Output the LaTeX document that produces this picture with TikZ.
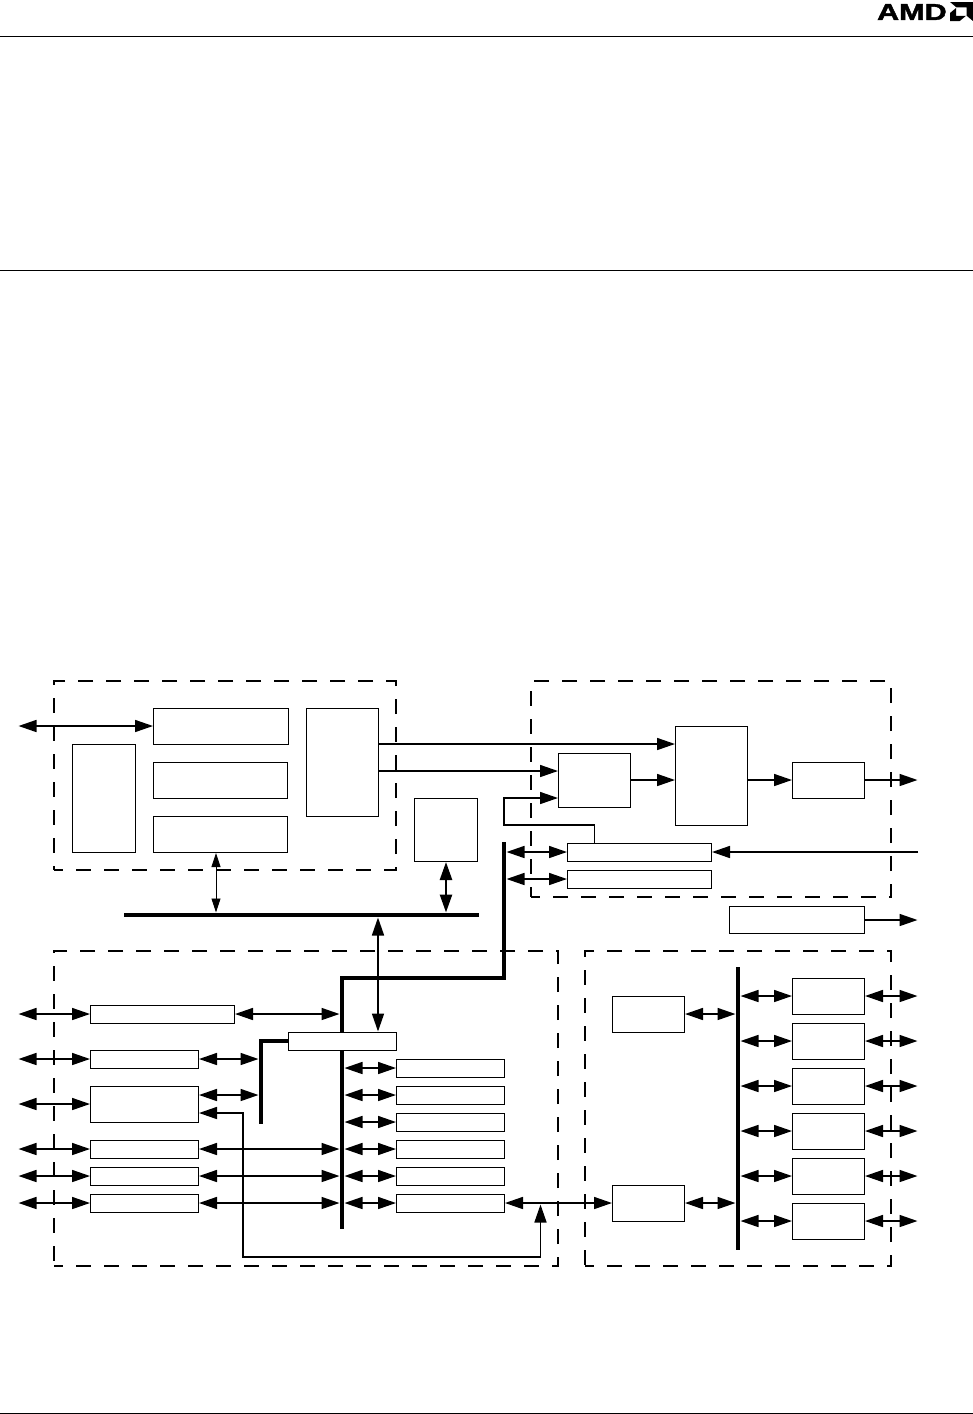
\documentclass[tikz,border=0pt]{standalone}
\usepackage{fontspec}
\setmainfont{Liberation Sans}[BoldFeatures={FakeBold=1.6}]
\usetikzlibrary{arrows.meta,calc,positioning}

\begin{document}
\begin{tikzpicture}[
  x=1pt, y=-1pt,
  block/.style={draw=black, fill=white, line width=0.9pt, inner sep=0pt, outer sep=0pt},
  narrowbar/.style={block, minimum width=108pt, minimum height=18pt},
  longbar/.style={block, minimum width=144pt, minimum height=18pt},
  smallbox/.style={block, minimum width=72pt, minimum height=36pt},
  group/.style={draw=black, line width=1.8pt, dash pattern=on 15pt off 13pt, dash phase=6pt, inner sep=0pt, outer sep=0pt},
  busbar/.style={fill=black, inner sep=0pt, outer sep=0pt},
  bigtip/.tip={Triangle[length=18pt, width=12pt]},
  thintip/.tip={Triangle[length=14pt, width=9pt]},
  oneway/.style={-bigtip, line width=1.6pt, shorten >=0.5pt},
  twoway/.style={bigtip-bigtip, line width=1.6pt, shorten >=0.5pt, shorten <=0.5pt},
  thinway/.style={thintip-thintip, line width=0.9pt, shorten >=0.5pt, shorten <=0.5pt},
  heavyway/.style={bigtip-bigtip, line width=2.5pt, shorten >=0.5pt, shorten <=0.5pt},
  heavywire/.style={line width=4pt, line join=miter},
  rule/.style={line width=0.9pt},
]
\useasboundingbox (0,0) rectangle (973,1414);

% page furniture
\draw[rule] (0,36.5) -- (973,36.5);
\draw[rule] (0,270.5) -- (973,270.5);
\draw[rule] (0,1413) -- (973,1413);
\node[inner sep=0pt, font=\bfseries, xscale=1.33, anchor=east] (logoText) at (947,12) {\fontsize{23}{23}\selectfont AMD};
\fill (950,2) -- (973,2) -- (973,21) -- (966.6,15.7) -- (966.6,7.3) -- (956.4,7.3) -- cycle;
\fill (950,21) -- (959.7,21) -- (965.9,15.9) -- (956.2,15.9) -- (956.2,7.9) -- (950,13) -- cycle;

% free ends left and right
\coordinate (edgeL) at (18,0);
\coordinate (edgeR) at (918,0);

% dashed groups
\node[group, minimum width=342pt, minimum height=189pt] (groupCore) at (225,775.5) {};
\node[group, minimum width=360pt, minimum height=216pt] (groupDisplay) at (711,789) {};
\node[group, minimum width=504pt, minimum height=315pt] (groupIO) at (306,1108.5) {};
\node[group, minimum width=306pt, minimum height=315pt] (groupBus) at (738,1108.5) {};

% top left group
\node[block, minimum width=135pt, minimum height=36pt] (cacheA) at (221,726) {};
\node[block, minimum width=134pt, minimum height=36pt] (cacheB) at (220.5,780) {};
\node[block, minimum width=134pt, minimum height=36pt] (cacheC) at (220.5,834) {};
\node[block, minimum width=63pt, minimum height=108pt] (coreL) at (104,798) {};
\node[block, minimum width=72pt, minimum height=108pt] (coreR) at (342.5,762) {};
\node[block, minimum width=63pt, minimum height=63pt] (pciBox) at (446,830) {};

% top right group
\node[smallbox, minimum height=54pt] (mixBox) at (594.5,780) {};
\node[block, minimum width=72pt, minimum height=99pt] (tallBox) at (711.5,776) {};
\node[smallbox] (dacBox) at (828.5,780) {};
\node[longbar] (barA) at (639.5,852) {};
\node[longbar] (barB) at (639.5,879) {};
\node[block, minimum width=135pt, minimum height=27pt] (barOut) at (797,920) {};

% lower left group
\node[longbar] (rowTop) at (162.5,1014) {};
\foreach \n/\y in {a/1059,d/1149,e/1176,f/1203} {
  \node[narrowbar] (row\n) at (144.5,\y) {};
}
\node[block, minimum width=108pt, minimum height=36pt] (rowb) at (144.5,1104) {};
\foreach \n/\y in {1/1068,2/1095,3/1122,4/1149,5/1176,6/1203} {
  \node[narrowbar] (port\n) at (450.5,\y) {};
}

% lower right group
\node[smallbox] (hostA) at (648.5,1014) {};
\node[smallbox] (hostB) at (648.5,1203) {};
\foreach \n/\y in {1/996,2/1041,3/1086,4/1131,5/1176,6/1221} {
  \node[smallbox] (dev\n) at (828.5,\y) {};
}

% buses
\node[busbar, minimum width=355pt, minimum height=4pt] (busTop) at (301.5,915) {};
\node[busbar, minimum width=4pt, minimum height=283pt] (busDev) at (738,1108.5) {};

\coordinate (busRise) at (504,842);
\coordinate (busMain) at (342,1229);
\coordinate (busSub) at (261,1124);
\draw[heavywire] (busRise) -- (504,978) -- (342,978) -- (busMain);
\node[narrowbar] (bridge) at (342.5,1041) {};
\draw[heavywire] (bridge.west) -| (busSub);

% connectors to the top bus
\coordinate (cacheTap) at (216,852.5);
\coordinate (bridgeTap) at (378,1032);
\draw[thinway] (cacheTap) -- (cacheTap |- busTop.north);
\draw[heavyway] (pciBox.south) -- (pciBox.south |- busTop.north);
\draw[twoway] (bridgeTap |- busTop.south) -- (bridgeTap);

% top right group connectors
\coordinate (outA) at (378,744);
\coordinate (outB) at (378,771);
\coordinate (tap) at (594.5,825);
\coordinate (loopIn) at (558.5,798);
\draw[oneway] (outA) -- (outA -| tallBox.west);
\draw[oneway] (outB) -- (outB -| mixBox.west);
\draw[oneway] (mixBox.east) -- (mixBox.east -| tallBox.west);
\draw[oneway] (tallBox.east |- dacBox.west) -- (dacBox.west);
\draw[oneway] (dacBox.east) -- (dacBox.east -| edgeR);
\draw[oneway] (barOut.east) -- (barOut.east -| edgeR);
\draw[oneway] (barA.east -| edgeR) -- (barA.east);
\draw[oneway] (tap |- barA.north) -- (tap) -| (busRise |- loopIn) -- (loopIn);
\draw[twoway] ($(barA.west -| busRise)+(2,0)$) -- (barA.west);
\draw[twoway] ($(barB.west -| busRise)+(2,0)$) -- (barB.west);

% lower left group connectors
\draw[twoway] (cacheA.west -| edgeL) -- (cacheA.west);
\foreach \n in {Top,a,b,d,e,f} {
  \draw[twoway] (row\n.west -| edgeL) -- (row\n.west);
}
\draw[twoway] (rowTop.east) -- ($(rowTop.east -| busMain)+(-2,0)$);
\draw[twoway] (rowa.east) -- ($(rowa.east -| busSub)+(-2,0)$);
\coordinate (subIn) at (198.5,1095);
\draw[twoway] (subIn) -- ($(subIn -| busSub)+(-2,0)$);
\foreach \n in {d,e,f} {
  \draw[twoway] (row\n.east) -- ($(row\n.east -| busMain)+(-2,0)$);
}
\foreach \n in {1,...,6} {
  \draw[twoway] ($(port\n.west -| busMain)+(2,0)$) -- (port\n.west);
}
\draw[twoway] (port6.east) -- (port6.east -| hostB.west);
\coordinate (loopA) at (198.5,1113);
\coordinate (loopB) at (243,1257);
\coordinate (loopC) at (540.5,1204);
\draw[twoway] (loopA) -- (loopA -| loopB) -- (loopB) -- (loopB -| loopC) -- (loopC);

% lower right group connectors
\draw[twoway] (hostA.east) -- (hostA.east -| busDev.west);
\draw[twoway] (hostB.east) -- (hostB.east -| busDev.west);
\foreach \n in {1,...,6} {
  \draw[twoway] (dev\n.west -| busDev.east) -- (dev\n.west);
  \draw[twoway] (dev\n.east) -- (dev\n.east -| edgeR);
}
\end{tikzpicture}
\end{document}
